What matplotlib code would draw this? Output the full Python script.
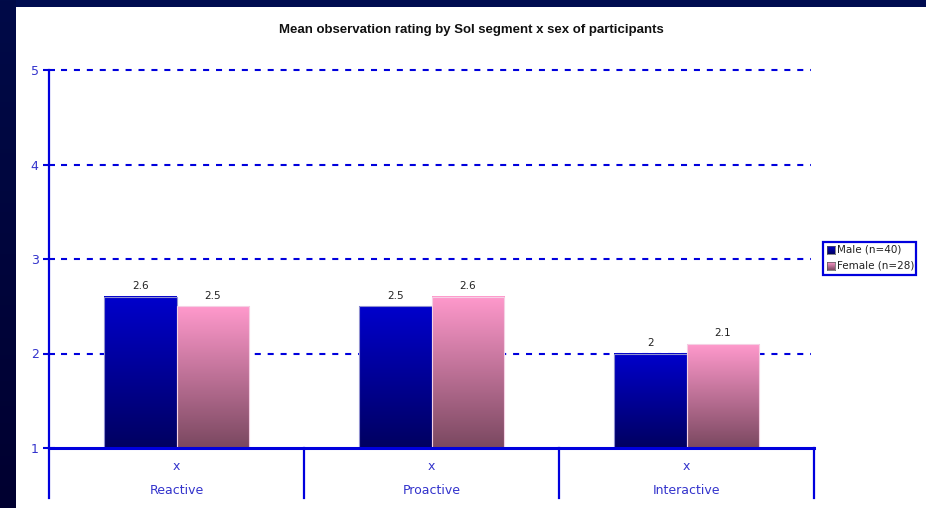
import numpy as np
import matplotlib
matplotlib.use("Agg")
import matplotlib.pyplot as plt
from matplotlib.colors import LinearSegmentedColormap
from matplotlib.patches import Rectangle

# data
segments = ["Reactive", "Proactive", "Interactive"]
male = [2.6, 2.5, 2.0]
female = [2.5, 2.6, 2.1]
series_names = ["Male (n=40)", "Female (n=28)"]
yticks = [1, 2, 3, 4, 5]

BLUE = "#0000dd"
NAVY = "#000c50"

male_cmap = LinearSegmentedColormap.from_list("male", ["#000060", "#0000cc"])
female_cmap = LinearSegmentedColormap.from_list("female", ["#7a4860", "#ff99cc"])

W, H = 926, 508
fig = plt.figure(figsize=(W / 100, H / 100), dpi=100)
fig.patch.set_facecolor(NAVY)

# dark left strip with a vertical gradient
strip = fig.add_axes([0, 0, 15 / W, 1])
strip.imshow(np.linspace(0, 1, 256).reshape(-1, 1), aspect="auto",
             cmap=LinearSegmentedColormap.from_list("s", ["#000a48", "#000030"]),
             extent=[0, 1, 0, 1], origin="upper")
strip.set_axis_off()

# white panel
panel = fig.add_axes([15 / W, 0, 1 - 15 / W, (H - 7) / H], zorder=-1)
panel.set_facecolor("white")
panel.set_xticks([]); panel.set_yticks([])
for sp in panel.spines.values():
    sp.set_visible(False)

ax = fig.add_axes([49 / W, (H - 448) / H, (814 - 49) / W, (448 - 70) / H], zorder=1)
ax.set_facecolor("none")
ax.set_xlim(-0.5, len(segments) - 0.5)
ax.set_ylim(1, 5)

grad = np.linspace(0, 1, 256).reshape(-1, 1)
bw = 0.284
for i in range(len(segments)):
    for x0, v, cm, ec in [(i - bw, male[i], male_cmap, "#9090d0"),
                          (i, female[i], female_cmap, "#f5d0e4")]:
        ax.imshow(grad, aspect="auto", cmap=cm, origin="lower",
                  extent=[x0, x0 + bw, 1, v], zorder=3, interpolation="bilinear")
        ax.add_patch(Rectangle((x0, 1), bw, v - 1, facecolor="none",
                               edgecolor=ec, linewidth=0.8, zorder=4))
        ax.text(x0 + bw / 2, v + 0.06, f"{v:g}", ha="center", va="bottom",
                fontsize=7.5, color="#222222", family="DejaVu Sans", zorder=5)

# dashed gridlines
for y in yticks[1:]:
    ax.plot([-0.453, 2.488], [y, y], color=BLUE, linewidth=1.5,
            dashes=(2.9, 3.3), zorder=2, clip_on=False)

for s in ["top", "right", "bottom"]:
    ax.spines[s].set_visible(False)
ax.spines["left"].set_color(BLUE)
ax.spines["left"].set_linewidth(1.6)
ax.spines["left"].set_bounds(1 - 50 / 94.5, 5)

ax.set_yticks(yticks)
ax.set_yticklabels([str(t) for t in yticks])
ax.tick_params(axis="y", direction="inout", length=9, width=1.5, color=BLUE,
               labelcolor="#3333cc", labelsize=9, pad=3)
ax.set_xticks([])

# category table under the axis
ybot = 1 - 50 / 94.5
ax.plot([-0.5, 2.5], [1, 1], color=BLUE, linewidth=2.2, clip_on=False, zorder=6)
for xd in [0.5, 1.5, 2.5]:
    ax.plot([xd, xd], [ybot, 1], color=BLUE, linewidth=1.6, clip_on=False, zorder=6)
for i, name in enumerate(segments):
    ax.text(i, 1 - 19 / 94.5, "x", ha="center", va="center", fontsize=9,
            color="#3333cc", clip_on=False)
    ax.text(i, 1 - 42 / 94.5, name, ha="center", va="center", fontsize=9,
            color="#3333cc", clip_on=False)

fig.text(471 / W, 1 - 30 / H, "Mean observation rating by SoI segment x sex of participants",
         ha="center", va="center", fontsize=9.5, fontweight="bold",
         family="Liberation Sans", color="#111111")

# legend box
lx0, ly0, lx1, ly1 = 823, 242, 916, 275
fig.patches.append(Rectangle((lx0 / W, 1 - ly1 / H), (lx1 - lx0) / W, (ly1 - ly0) / H,
                             transform=fig.transFigure, facecolor="white",
                             edgecolor=BLUE, linewidth=1.6, zorder=5))
for k, (name, cm) in enumerate(zip(series_names, [male_cmap, female_cmap])):
    yc = 250 + k * 16
    sq = fig.add_axes([827 / W, 1 - (yc + 4) / H, 8 / W, 8 / H], zorder=6)
    sq.imshow(grad, aspect="auto", cmap=cm, origin="lower", extent=[0, 1, 0, 1])
    sq.set_xticks([]); sq.set_yticks([])
    for sp in sq.spines.values():
        sp.set_color("#555555"); sp.set_linewidth(0.5)
    fig.text(837 / W, 1 - yc / H, name, ha="left", va="center", fontsize=7.5,
             color="#222222", family="DejaVu Sans", zorder=7)

fig.savefig("out.png", dpi=100, facecolor=fig.get_facecolor())
